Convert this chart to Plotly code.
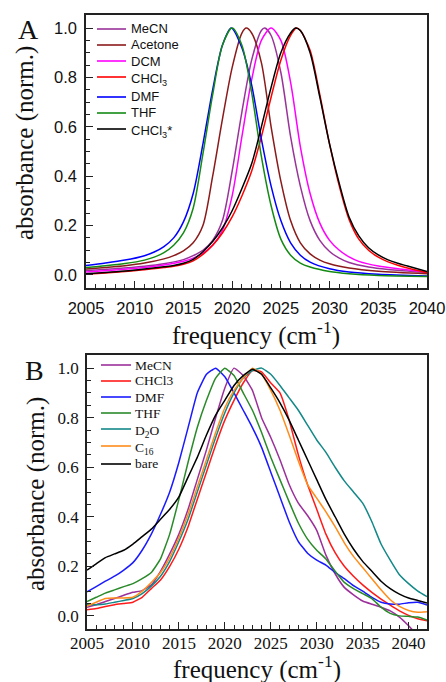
import plotly.graph_objects as go

# ---------------- Panel A data ----------------
A_names = ["MeCN", "Acetone", "DCM", "CHCl<sub>3</sub>", "DMF", "THF", "CHCl<sub>3</sub>*"]
A_colors = ["#993399", "#8b1a1a", "#ff00ff", "#ff0000", "#0000ff", "#138a13", "#000000"]

A_MeCN_x = [2005, 2008, 2011, 2013, 2015, 2016, 2017, 2018, 2019, 2020, 2021, 2022, 2023, 2023.35, 2024, 2025, 2026, 2027, 2028, 2029, 2030, 2031, 2032, 2034, 2036, 2040]
A_MeCN_y = [.018, .025, .035, .045, .062, .078, .1, .14, .22, .42, .66, .87, .99, 1.0, .97, .82, .56, .36, .22, .14, .095, .068, .05, .032, .022, .01]

A_Acetone_x = [2005, 2007, 2009, 2011, 2013, 2014, 2015, 2016, 2017, 2018, 2019, 2020, 2021, 2021.45, 2022, 2023, 2024, 2025, 2026, 2027, 2028, 2029, 2030, 2032, 2035, 2040]
A_Acetone_y = [.024, .03, .037, .048, .065, .078, .097, .13, .2, .4, .63, .84, .98, 1.0, .98, .86, .6, .38, .22, .13, .085, .06, .045, .028, .015, .005]

A_DCM_x = [2005, 2008, 2011, 2013, 2015, 2016, 2017, 2018, 2019, 2020, 2021, 2022, 2023, 2024, 2025, 2026, 2027, 2028, 2029, 2030, 2031, 2032, 2033, 2035, 2037, 2040]
A_DCM_y = [.012, .02, .03, .04, .055, .068, .088, .12, .18, .32, .56, .79, .95, 1.0, .95, .78, .52, .33, .21, .14, .1, .073, .055, .036, .025, .012]

A_CHCl3_x = [2005, 2007, 2009, 2011, 2013, 2014, 2015, 2016, 2017, 2018, 2019, 2020, 2021, 2022, 2023, 2024, 2025, 2026, 2026.6, 2027, 2028, 2029, 2030, 2031, 2032, 2033, 2034, 2035, 2036, 2037, 2038, 2040]
A_CHCl3_y = [.003, .008, .014, .021, .03, .035, .043, .057, .083, .12, .17, .235, .32, .42, .56, .72, .87, .97, 1.0, .99, .91, .73, .53, .36, .225, .145, .1, .072, .053, .039, .028, .009]

A_DMF_x = [2005, 2007, 2009, 2011, 2012, 2013, 2014, 2015, 2016, 2017, 2018, 2019, 2019.9, 2021, 2022, 2023, 2024, 2025, 2026, 2027, 2028, 2030, 2032, 2035, 2040]
A_DMF_y = [.038, .048, .06, .078, .093, .115, .15, .215, .33, .53, .75, .93, 1.0, .92, .77, .55, .36, .22, .13, .08, .052, .025, .012, .003, -.004]

A_THF_x = [2005, 2007, 2009, 2011, 2012, 2013, 2014, 2015, 2016, 2017, 2018, 2019, 2020, 2021, 2022, 2023, 2024, 2025, 2026, 2027, 2028, 2030, 2032, 2035, 2040]
A_THF_y = [.03, .037, .046, .06, .072, .09, .12, .17, .27, .49, .73, .93, 1.0, .93, .74, .48, .28, .145, .08, .048, .032, .014, .005, -.002, -.006]

A_CHCl3s_x = [2005, 2007, 2009, 2011, 2013, 2014, 2015, 2016, 2017, 2018, 2019, 2020, 2021, 2022, 2023, 2024, 2025, 2026, 2026.5, 2027, 2028, 2029, 2030, 2031, 2032, 2033, 2034, 2035, 2036, 2037, 2038, 2040]
A_CHCl3s_y = [.005, .01, .016, .024, .033, .038, .047, .063, .094, .135, .19, .26, .35, .45, .6, .76, .9, .98, 1.0, .99, .9, .72, .53, .37, .235, .158, .11, .081, .061, .047, .036, .014]

A_x = [A_MeCN_x, A_Acetone_x, A_DCM_x, A_CHCl3_x, A_DMF_x, A_THF_x, A_CHCl3s_x]
A_y = [A_MeCN_y, A_Acetone_y, A_DCM_y, A_CHCl3_y, A_DMF_y, A_THF_y, A_CHCl3s_y]

# ---------------- Panel B data ----------------
B_names = ["MeCN", "CHCl3", "DMF", "THF", "D<sub>2</sub>O", "C<sub>16</sub>", "bare"]
B_colors = ["#9b309b", "#ff1a1a", "#1a1aff", "#2a8a2a", "#138888", "#ff8c1a", "#000000"]

B_x = [2005, 2006, 2007, 2008, 2009, 2010, 2011, 2012, 2013, 2014, 2015, 2016, 2017, 2018, 2019,
       2020, 2021, 2022, 2023, 2024, 2025, 2026, 2027, 2028, 2029, 2030, 2031, 2032, 2033, 2034,
       2035, 2036, 2037, 2038, 2039, 2040, 2041, 2042]

B_MeCN = [.035, .045, .058, .07, .083, .095, .102, .125, .18, .25, .33, .43, .55, .67, .8,
          .92, 1.0, .97, .91, .8, .72, .63, .53, .455, .405, .345, .245, .17, .115, .085,
          .06, .047, .035, .02, -.005, -.04, -.08, -.12]
B_CHCl3 = [.025, .03, .038, .045, .05, .055, .075, .11, .145, .2, .27, .36, .47, .58, .69,
           .79, .87, .94, .99, .985, .94, .9, .79, .65, .53, .43, .33, .255, .2, .16,
           .125, .095, .068, .043, .02, .002, -.012, -.02]
B_DMF = [.097, .118, .14, .16, .185, .215, .265, .33, .41, .5, .62, .76, .9, .975, 1.0,
         .965, .9, .83, .76, .68, .58, .48, .38, .3, .253, .225, .205, .175, .15, .122,
         .1, .075, .055, .048, .047, .053, .055, .044]
B_THF = [.058, .075, .092, .105, .118, .13, .15, .175, .23, .33, .47, .62, .76, .87, .96,
         1.0, .97, .9, .83, .74, .64, .55, .46, .375, .31, .265, .23, .18, .135, .11,
         .09, .07, .035, .01, .0, -.002, -.005, -.017]
B_D2O = [.045, .045, .048, .055, .062, .07, .09, .12, .16, .22, .3, .39, .5, .61, .72,
         .82, .9, .96, .99, 1.0, .975, .93, .88, .83, .77, .71, .66, .6, .545, .5,
         .455, .38, .29, .225, .166, .13, .1, .078]
B_C16 = [.04, .055, .07, .072, .072, .075, .1, .135, .175, .235, .315, .41, .52, .63, .74,
         .84, .91, .96, 1.0, .975, .91, .83, .73, .625, .53, .475, .42, .36, .295, .24,
         .195, .15, .105, .065, .038, .022, .015, .017]
B_bare = [.185, .21, .235, .25, .265, .29, .32, .35, .39, .43, .48, .56, .64, .73, .81,
          .87, .93, .97, .995, .975, .92, .86, .79, .71, .63, .55, .47, .4, .33, .27,
          .22, .18, .14, .11, .088, .072, .062, .052]
B_y = [B_MeCN, B_CHCl3, B_DMF, B_THF, B_D2O, B_C16, B_bare]

A_xticks = [2005, 2010, 2015, 2020, 2025, 2030, 2035, 2040]
B_xticks = [2005, 2010, 2015, 2020, 2025, 2030, 2035, 2040]
y_ticks = [0.0, 0.2, 0.4, 0.6, 0.8, 1.0]

# ---------------- Figure ----------------
W, H = 446, 682
SANS = "Liberation Sans, Arial, sans-serif"
SERIF = "Liberation Serif, Times New Roman, serif"

def px(x):
    return x / W

def py(y):
    return 1 - y / H

fig = go.Figure()

for xs, ys, nm, c in zip(A_x, A_y, A_names, A_colors):
    fig.add_trace(go.Scatter(x=xs, y=ys, name=nm, mode="lines",
                             line=dict(color=c, width=1.5, shape="spline", smoothing=0.8),
                             xaxis="x", yaxis="y", showlegend=False))
for ys, nm, c in zip(B_y, B_names, B_colors):
    fig.add_trace(go.Scatter(x=B_x, y=ys, name=nm, mode="lines",
                             line=dict(color=c, width=1.5, shape="spline", smoothing=0.4),
                             xaxis="x2", yaxis="y2", showlegend=False))

def axis_style(font, size, **kw):
    d = dict(showline=True, linecolor="#222", linewidth=1.5, mirror=True, automargin=False,
             showgrid=False, zeroline=False, ticks="inside", ticklen=7,
             tickwidth=1.2, tickcolor="#222",
             tickfont=dict(family=font, size=size, color="#111"))
    d.update(kw)
    return d

fig.update_layout(
    width=W, height=H, autosize=False, margin=dict(l=0, r=0, t=0, b=0, pad=0),
    paper_bgcolor="white", plot_bgcolor="white",
    xaxis=axis_style(SANS, 16.5, domain=[px(86), px(427)], range=[2005, 2040],
                     tickvals=A_xticks, anchor="y", ticklabelstandoff=4,
                     minor=dict(dtick=1, tick0=2005, ticks="inside", ticklen=4, tickcolor="#222")),
    yaxis=axis_style(SANS, 16.5, domain=[py(288), py(15)], range=[-0.053, 1.053],
                     tickvals=y_ticks, tickformat=".1f", anchor="x", ticklabelstandoff=4,
                     minor=dict(dtick=0.05, tick0=0, ticks="inside", ticklen=4, tickcolor="#222")),
    xaxis2=axis_style(SERIF, 17, domain=[px(87), px(427)], range=[2005, 2042],
                      tickvals=B_xticks, anchor="y2", ticklabelstandoff=-2,
                      minor=dict(dtick=1, tick0=2005, ticks="inside", ticklen=4, tickcolor="#222")),
    yaxis2=axis_style(SERIF, 17, domain=[py(629), py(355)], range=[-0.053, 1.053],
                      tickvals=y_ticks, tickformat=".1f", anchor="x2", ticklabelstandoff=3,
                      minor=dict(dtick=0.05, tick0=0, ticks="inside", ticklen=4, tickcolor="#222")),
)

ann = []
shapes = []
ylab = "absorbance (norm.)"
xlab = "frequency (cm<sup>-1</sup>)"
ann.append(dict(text=ylab, x=px(25), y=py(143), textangle=-90, showarrow=False,
                xref="paper", yref="paper", xanchor="center", yanchor="middle",
                font=dict(family=SERIF, size=25, color="#111")))
ann.append(dict(text=xlab, x=px(256), y=py(333), showarrow=False,
                xref="paper", yref="paper", xanchor="center", yanchor="middle",
                font=dict(family=SERIF, size=25, color="#111")))
ann.append(dict(text=ylab, x=px(36), y=py(494), textangle=-90, showarrow=False,
                xref="paper", yref="paper", xanchor="center", yanchor="middle",
                font=dict(family=SERIF, size=25, color="#111")))
ann.append(dict(text=xlab, x=px(257), y=py(667), showarrow=False,
                xref="paper", yref="paper", xanchor="center", yanchor="middle",
                font=dict(family=SERIF, size=25, color="#111")))
ann.append(dict(text="A", x=px(28), y=py(30), showarrow=False, xref="paper", yref="paper",
                xanchor="center", yanchor="middle", font=dict(family=SERIF, size=28, color="#111")))
ann.append(dict(text="B", x=px(34), y=py(370), showarrow=False, xref="paper", yref="paper",
                xanchor="center", yanchor="middle", font=dict(family=SERIF, size=28, color="#111")))

# hand-placed legends (row centres in pixels)
A_leg_rows = [29, 45, 61, 77, 97, 113, 129]
B_leg_rows = [365, 381, 397, 413, 429, 446, 464]
for nm, c, r in zip(A_names, A_colors, A_leg_rows):
    shapes.append(dict(type="line", xref="paper", yref="paper", x0=px(97), x1=px(126),
                       y0=py(r), y1=py(r), line=dict(color=c, width=1.6)))
    ann.append(dict(text=nm, x=px(129), y=py(r), showarrow=False, xref="paper", yref="paper",
                    xanchor="left", yanchor="middle", yshift=(-2 if "<sub>" in nm else 0),
                    font=dict(family=SANS, size=13, color="#111")))
for nm, c, r in zip(B_names, B_colors, B_leg_rows):
    shapes.append(dict(type="line", xref="paper", yref="paper", x0=px(101), x1=px(131),
                       y0=py(r), y1=py(r), line=dict(color=c, width=1.6)))
    ann.append(dict(text=nm, x=px(133), y=py(r), showarrow=False, xref="paper", yref="paper",
                    xanchor="left", yanchor="middle", yshift=(-2 if "<sub>" in nm else 0),
                    font=dict(family=SERIF, size=13.5, color="#111")))

fig.update_layout(annotations=ann, shapes=shapes)
fig.write_html("out.html", config={"responsive": False, "displayModeBar": False},
               post_script="document.body.style.margin='0px';document.body.style.overflow='hidden';")
